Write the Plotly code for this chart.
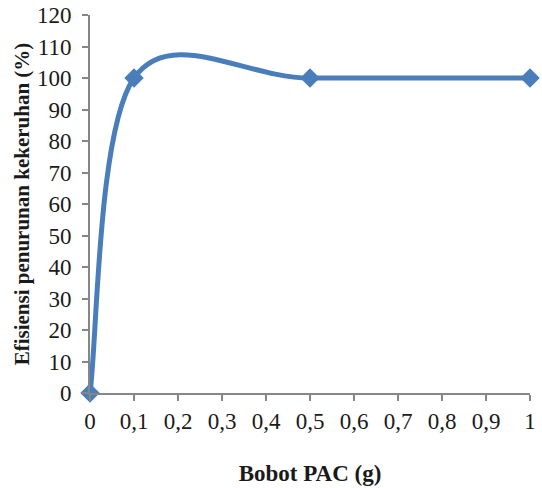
import plotly.graph_objects as go

x_vals = [0, 0.1, 0.5, 1]
y_vals = [0, 100, 100, 100]
x_title = "Bobot PAC (g)"
y_title = "Efisiensi penurunan kekeruhan (%)"

color = "#4a7ebb"
axis_color = "#868686"
font_family = "Liberation Serif"

# Excel-style smoothed line: cubic Bezier segments (Catmull-Rom, tension 1/6)
pts = list(zip(x_vals, y_vals))
n = len(pts)
path = f"M {pts[0][0]},{pts[0][1]}"
for i in range(n - 1):
    p0 = pts[i - 1] if i > 0 else pts[i]
    p1 = pts[i]
    p2 = pts[i + 1]
    p3 = pts[i + 2] if i + 2 < n else pts[i + 1]
    c1 = (p1[0] + (p2[0] - p0[0]) / 6, p1[1] + (p2[1] - p0[1]) / 6)
    c2 = (p2[0] - (p3[0] - p1[0]) / 6, p2[1] - (p3[1] - p1[1]) / 6)
    path += f" C {c1[0]},{c1[1]} {c2[0]},{c2[1]} {p2[0]},{p2[1]}"

fig = go.Figure()
fig.add_trace(go.Scatter(
    x=x_vals, y=y_vals, mode="markers",
    marker=dict(symbol="diamond", size=15, color=color),
    cliponaxis=False,
))
fig.add_shape(type="path", path=path, xref="x", yref="y",
              line=dict(color=color, width=5), layer="below")
fig.update_layout(
    width=542, height=488,
    margin=dict(l=90, r=12, t=15, b=95),
    paper_bgcolor="white", plot_bgcolor="white",
    separators=",.",
    showlegend=False,
    font=dict(family=font_family, size=23, color="#1a1a1a"),
)
fig.update_xaxes(
    range=[0, 1], dtick=0.1, tick0=0, automargin=False,
    showgrid=False, zeroline=False,
    showline=True, linecolor=axis_color, linewidth=2,
    ticks="outside", ticklen=6, tickcolor=axis_color, tickwidth=2,
    tickfont=dict(family=font_family, size=23),
    title=dict(text="<b>" + x_title + "</b>", font=dict(family=font_family, size=23), standoff=32),
)
fig.update_yaxes(
    range=[0, 120], dtick=10, tick0=0, automargin=False,
    showgrid=False, zeroline=False,
    showline=True, linecolor=axis_color, linewidth=2,
    ticks="outside", ticklen=6, tickcolor=axis_color, tickwidth=2,
    ticklabelstandoff=6,
    tickfont=dict(family=font_family, size=23),
    title=dict(text="<b>" + y_title + "</b>", font=dict(family=font_family, size=21), standoff=2),
)
fig.write_html("out.html")
